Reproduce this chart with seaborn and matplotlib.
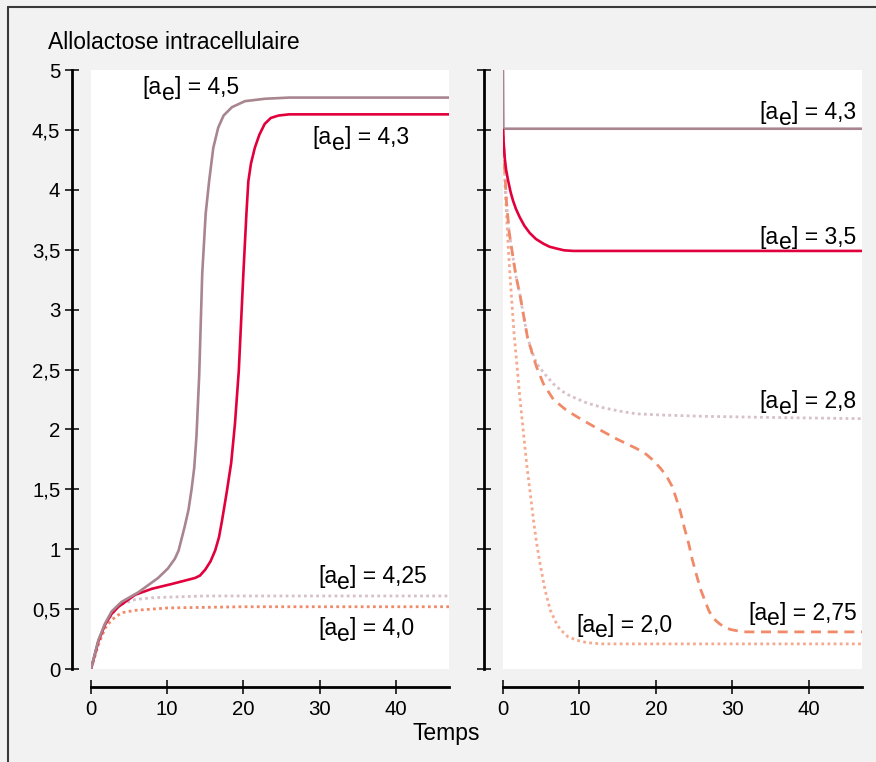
"""
plot.py
=======
Allolactose intracellulaire vs. temps, for several external lactose levels [a_e].
Left panel: induction from zero.  Right panel: relaxation from a high start.
"""

import matplotlib
matplotlib.use("Agg")
import matplotlib.pyplot as plt
from matplotlib.lines import Line2D
import seaborn as sns

# ─── Colours ──────────────────────────────────────────────────────────────────
BG           = "#f2f2f2"
MAUVE        = "#a8858f"
RED          = "#e2003c"
MAUVE_LIGHT  = "#d8c0ca"
SALMON       = "#f08a68"
SALMON_LIGHT = "#f5aa90"

# ─── Left panel curves ────────────────────────────────────────────────────────
L45_T = [0, 0.96, 1.84, 2.7, 4.0, 6.2, 8.8, 10.1, 11.0, 11.5, 12.3, 12.8, 13.2, 13.55,
         13.85, 14.2, 14.6, 15.05, 15.5, 16.05, 16.7, 17.4, 18.5, 20.2, 22.8, 26, 47]
L45_V = [0, 0.24, 0.38, 0.48, 0.56, 0.64, 0.76, 0.84, 0.92, 0.99, 1.19, 1.33, 1.50, 1.68,
         1.95, 2.45, 3.30, 3.80, 4.07, 4.35, 4.52, 4.62, 4.69, 4.74, 4.76, 4.77, 4.77]

L43_T = [0, 0.96, 1.84, 2.7, 3.6, 5.8, 8.0, 10.6, 13.65, 14.3, 15.0, 15.7, 16.3, 16.8,
         17.2, 17.8, 18.4, 18.9, 19.4, 20.0, 20.4, 20.65, 21.0, 21.5, 22.1, 22.8, 23.6,
         24.6, 26, 47]
L43_V = [0, 0.23, 0.37, 0.46, 0.52, 0.62, 0.67, 0.71, 0.76, 0.78, 0.83, 0.90, 0.99, 1.10,
         1.24, 1.47, 1.72, 2.05, 2.49, 3.30, 3.80, 4.07, 4.22, 4.35, 4.46, 4.55, 4.60,
         4.62, 4.63, 4.63]

L425_T = [0, 0.96, 1.84, 2.7, 3.6, 5.8, 8.0, 10.1, 15, 47]
L425_V = [0, 0.23, 0.37, 0.45, 0.53, 0.58, 0.595, 0.60, 0.61, 0.61]

L40_T = [0, 0.96, 1.84, 2.7, 4.0, 5.8, 10.1, 20, 47]
L40_V = [0, 0.20, 0.34, 0.41, 0.47, 0.49, 0.51, 0.52, 0.52]

# ─── Right panel curves ───────────────────────────────────────────────────────
R43_T = [0, 0.05, 47]
R43_V = [5.0, 4.51, 4.51]

R35_T = [0, 0.1, 0.22, 0.4, 0.66, 1.0, 1.31, 1.7, 2.2, 2.8, 3.5, 4.3, 5.3, 6.1, 7.0,
         8.0, 9.2, 47]
R35_V = [4.50, 4.38, 4.27, 4.17, 4.08, 3.98, 3.91, 3.84, 3.77, 3.70, 3.64, 3.59, 3.55,
         3.525, 3.51, 3.495, 3.49, 3.49]

R28_T = [0, 0.2, 0.44, 0.8, 1.3, 1.7, 2.2, 2.7, 3.2, 3.8, 4.4, 5.5, 6.6, 7.7, 8.8, 11,
         13.2, 15.5, 17.5, 21, 26, 35, 47]
R28_V = [4.5, 4.2, 3.91, 3.65, 3.44, 3.28, 3.13, 2.95, 2.77, 2.65, 2.55, 2.46, 2.38, 2.32,
         2.28, 2.22, 2.18, 2.15, 2.13, 2.12, 2.11, 2.10, 2.09]

R275_T = [0, 0.2, 0.44, 0.8, 1.3, 1.7, 2.2, 2.7, 3.2, 3.8, 4.4, 5.3, 6.6, 8.3, 10.1, 12.3,
          14.9, 17.5, 18.8, 19.7, 20.7, 21.5, 22.1, 22.6, 23.2, 23.7, 24.3, 24.8, 25.4,
          25.9, 26.5, 27.0, 27.6, 28.3, 29.0, 29.8, 30.6, 31.5, 47]
R275_V = [4.5, 4.2, 3.91, 3.65, 3.44, 3.28, 3.13, 2.95, 2.77, 2.64, 2.52, 2.38, 2.25, 2.16,
          2.09, 2.01, 1.92, 1.84, 1.79, 1.74, 1.67, 1.60, 1.53, 1.44, 1.32, 1.19, 1.05,
          0.91, 0.77, 0.66, 0.56, 0.48, 0.42, 0.38, 0.35, 0.33, 0.32, 0.31, 0.31]

R20_T = [0, 0.3, 0.6, 0.9, 1.45, 2.2, 3.1, 4.0, 4.4, 4.85, 5.5, 6.2, 7.0, 7.5, 8.5, 9.7,
         11, 13, 47]
R20_V = [4.5, 4.0, 3.62, 3.3, 2.8, 2.27, 1.71, 1.24, 1.05, 0.88, 0.66, 0.49, 0.38, 0.33,
         0.27, 0.24, 0.22, 0.21, 0.21]

# ─── Axis ticks ───────────────────────────────────────────────────────────────
X_TICKS  = [0, 10, 20, 30, 40]
Y_TICKS  = [0, 0.5, 1, 1.5, 2, 2.5, 3, 3.5, 4, 4.5, 5]
Y_LABELS = ["0", "0,5", "1", "1,5", "2", "2,5", "3", "3,5", "4", "4,5", "5"]

DOT      = (0, (1, 1.2))
DASH     = (0, (3.6, 2.4))
FS       = 16.5     # title / curve labels
FS_TICK  = 14.7
SUB_DROP = 4.0      # how far the subscript "e" sits below the baseline (pt)


def curve(ax, t, v, color, ls="-", lw=1.9):
    sns.lineplot(x=t, y=v, ax=ax, color=color, linestyle=ls, linewidth=lw,
                 estimator=None, sort=False, dash_capstyle="butt")


def ae_label(ax, x, y, value, ha="left"):
    # "[a" + lowered "e" + "] = value", chained so the subscript stays full size
    kw = dict(fontsize=FS, color="black", textcoords="offset points", va="bottom")
    if ha == "left":
        t1 = ax.text(x, y, "[a", ha="left", va="baseline", fontsize=FS, color="black")
        t2 = ax.annotate("e", xy=(1, 0), xycoords=t1, xytext=(0, -SUB_DROP), ha="left", **kw)
        ax.annotate("] = " + value, xy=(1, 0), xycoords=t2, xytext=(0, SUB_DROP),
                    ha="left", **kw)
    else:
        t3 = ax.text(x, y, "] = " + value, ha="right", va="baseline", fontsize=FS,
                     color="black")
        t2 = ax.annotate("e", xy=(0, 0), xycoords=t3, xytext=(0, -SUB_DROP), ha="right", **kw)
        ax.annotate("[a", xy=(0, 0), xycoords=t2, xytext=(0, SUB_DROP), ha="right", **kw)


sns.set_theme(style="ticks")
plt.rcParams["font.family"] = ["Liberation Sans", "DejaVu Sans"]

fig = plt.figure(figsize=(8.76, 7.62), dpi=100, facecolor=BG)
ax_l = fig.add_axes([0.1039, 0.1220, 0.4087, 0.7861])
ax_r = fig.add_axes([0.5742, 0.1220, 0.4098, 0.7861])

# left panel
curve(ax_l, L425_T, L425_V, MAUVE_LIGHT, DOT, 2.0)
curve(ax_l, L40_T, L40_V, SALMON, DOT, 2.0)
curve(ax_l, L43_T, L43_V, RED)
curve(ax_l, L45_T, L45_V, MAUVE)

# right panel
curve(ax_r, R20_T, R20_V, SALMON_LIGHT, DOT, 2.0)
curve(ax_r, R28_T, R28_V, MAUVE_LIGHT, DOT, 2.0)
curve(ax_r, R275_T, R275_V, SALMON, DASH, 2.0)
curve(ax_r, R43_T, R43_V, MAUVE)
curve(ax_r, R35_T, R35_V, RED)

for ax in (ax_l, ax_r):
    ax.set_xlim(0, 47)
    ax.set_ylim(0, 5)
    ax.set_facecolor("white")
    ax.grid(False)
    ax.set_xlabel("")
    ax.set_ylabel("")
    sns.despine(ax=ax, offset={"left": 13.5, "bottom": 13})
    for side in ("left", "bottom"):
        ax.spines[side].set_linewidth(2.0)
        ax.spines[side].set_color("black")
    ax.set_xticks(X_TICKS)
    ax.set_yticks(Y_TICKS)
    ax.tick_params(direction="inout", length=10, width=1.1, color="black",
                   labelsize=FS_TICK, labelcolor="black")
    ax.tick_params(axis="x", pad=4.0)
    ax.tick_params(axis="y", pad=3.6)

ax_l.set_yticklabels(Y_LABELS)
ax_r.tick_params(axis="y", labelleft=False)

# curve labels
ae_label(ax_l, 6.8, 4.80, "4,5")
ae_label(ax_l, 29.1, 4.38, "4,3")
ae_label(ax_l, 29.8, 0.717, "4,25")
ae_label(ax_l, 29.8, 0.283, "4,0")

ae_label(ax_r, 46.2, 4.59, "4,3", ha="right")
ae_label(ax_r, 46.2, 3.55, "3,5", ha="right")
ae_label(ax_r, 46.2, 2.175, "2,8", ha="right")
ae_label(ax_r, 46.3, 0.41, "2,75", ha="right")
ae_label(ax_r, 9.6, 0.31, "2,0")

fig.text(48 / 876, 1 - 49 / 762, "Allolactose intracellulaire", fontsize=FS,
         ha="left", va="baseline", color="black")
fig.text(446 / 876, 1 - 740 / 762, "Temps", fontsize=FS,
         ha="center", va="baseline", color="black")

# frame (only the left and top edges are in view)
fig.add_artist(Line2D([8 / 876, 8 / 876], [0, 1 - 7 / 762], transform=fig.transFigure,
                      color="#3a3a3a", lw=1.5))
fig.add_artist(Line2D([8 / 876, 1], [1 - 7 / 762, 1 - 7 / 762], transform=fig.transFigure,
                      color="#3a3a3a", lw=1.5))

fig.savefig("out.png", dpi=100, facecolor=fig.get_facecolor())
